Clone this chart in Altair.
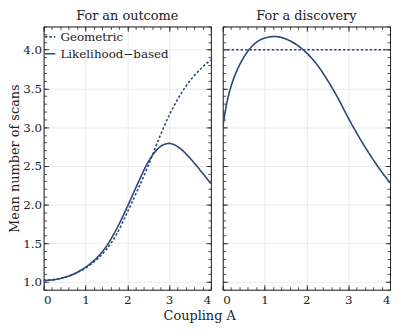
import altair as alt
import pandas as pd

# --- data ---
a_left = [0, 0.25, 0.5, 0.75, 1.0, 1.25, 1.5, 1.75, 2.0, 2.25, 2.5, 2.75, 3.0, 3.25, 3.5, 3.75, 4.0]
geometric_outcome = [1.02, 1.03, 1.06, 1.11, 1.18, 1.28, 1.42, 1.62, 1.90, 2.19, 2.50, 2.84, 3.15, 3.40, 3.60, 3.75, 3.87]
likelihood_outcome = [1.02, 1.03, 1.06, 1.11, 1.19, 1.30, 1.46, 1.69, 1.97, 2.27, 2.55, 2.73, 2.79, 2.73, 2.60, 2.44, 2.27]

a_right = [0, 0.1, 0.2, 0.3, 0.5, 0.75, 1.0, 1.25, 1.5, 1.75, 2.0, 2.25, 2.5, 2.75, 3.0, 3.25, 3.5, 3.75, 4.0]
geometric_discovery = [4.0] * len(a_right)
likelihood_discovery = [3.00, 3.32, 3.53, 3.68, 3.90, 4.07, 4.15, 4.17, 4.14, 4.07, 3.96, 3.81, 3.61, 3.38, 3.12, 2.88, 2.66, 2.46, 2.28]

series = ["Geometric", "Likelihood\u2212based"]
titles = ["For an outcome", "For a discovery"]
x_major = [0, 1, 2, 3, 4]
y_major = [1.0, 1.5, 2.0, 2.5, 3.0, 3.5, 4.0]

def frame(a, g, l):
    rows = []
    for x, y in zip(a, g):
        rows.append({"A": x, "v": y, "s": series[0]})
    for x, y in zip(a, l):
        rows.append({"A": x, "v": y, "s": series[1]})
    return pd.DataFrame(rows)

df_l = frame(a_left, geometric_outcome, likelihood_outcome)
df_r = frame(a_right, geometric_discovery, likelihood_discovery)

FONT = "DejaVu Serif"
NAVY = "#2b4679"
INK = "#222222"
W, H = 169, 266

xscale = alt.Scale(domain=[0, 4], nice=False)
yscale = alt.Scale(domain=[0.9, 4.3], nice=False, zero=False)
minor_xs = [round(i / 5, 1) for i in range(21)]
minor_ys = [round(0.9 + i / 10, 1) for i in range(35)]


def tick_axis(orient, offset, values, size, domain):
    return alt.Axis(orient=orient, offset=offset, values=values, labels=False, title=None,
                    grid=False, tickSize=size, domain=domain, domainColor=INK, tickColor=INK,
                    tickWidth=0.8, domainWidth=1)


def panel(df, title, show_y, legend):
    base = alt.Chart(df)
    leg = alt.Legend(title=None, orient="none", legendX=0, legendY=4,
                     symbolType="stroke", symbolSize=110, symbolStrokeWidth=1.6,
                     labelFont=FONT, labelFontSize=12, labelColor=INK,
                     rowPadding=4, labelOffset=4) if legend else None
    color = alt.Color("s:N", scale=alt.Scale(domain=series, range=[NAVY, NAVY]), legend=leg)
    dash = alt.StrokeDash("s:N", scale=alt.Scale(domain=series, range=[[2.5, 2], [1, 0]]), legend=leg)
    xax = alt.Axis(values=x_major, format="d", title=None, ticks=False, labelPadding=5,
                   gridColor="#ebebeb", domainColor=INK, labelFont=FONT, labelFontSize=12,
                   labelColor=INK)
    yax = alt.Axis(values=y_major, format=".1f",
                   title="Mean number of scans" if show_y else None,
                   labels=show_y, ticks=False, labelPadding=2, gridColor="#ebebeb",
                   domainColor=INK, labelFont=FONT, labelFontSize=12,
                   labelColor=INK, titleFont=FONT, titleFontSize=13, titleFontWeight="normal",
                   titleColor=INK, titlePadding=1)
    lines = base.mark_line(strokeWidth=1.6, clip=True, interpolate="monotone").encode(
        x=alt.X("A:Q", scale=xscale, axis=xax),
        y=alt.Y("v:Q", scale=yscale, axis=yax),
        color=color,
        strokeDash=dash,
    )
    layers = [lines]
    # inward ticks on all four sides (placed with negative offsets)
    specs_x = [("top", -H, minor_xs, 3, False), ("top", -H, x_major, 5, False),
               ("bottom", -H, minor_xs, 3, True), ("bottom", -H, x_major, 5, False)]
    for orient, off, vals, size, dom in specs_x:
        layers.append(base.mark_line(opacity=0).encode(
            x=alt.X("A:Q", scale=xscale, axis=tick_axis(orient, off, vals, size, dom)),
            y=alt.Y("v:Q", scale=yscale, axis=None)))
    specs_y = [("right", -W, minor_ys, 3, False), ("right", -W, y_major, 5, False),
               ("left", -W, minor_ys, 3, True), ("left", -W, y_major, 5, False)]
    for orient, off, vals, size, dom in specs_y:
        layers.append(base.mark_line(opacity=0).encode(
            x=alt.X("A:Q", scale=xscale, axis=None),
            y=alt.Y("v:Q", scale=yscale, axis=tick_axis(orient, off, vals, size, dom))))
    return alt.layer(*layers).resolve_axis(x="independent", y="independent").properties(
        width=W, height=H,
        title=alt.TitleParams(title, font=FONT, fontSize=13, fontWeight="normal", color=INK, offset=3))


left = panel(df_l, titles[0], True, True)
right = panel(df_r, titles[1], False, False)

chart = alt.hconcat(left, right, spacing=10).properties(
    title=alt.TitleParams("Coupling A", orient="bottom", anchor="middle", font=FONT, fontSize=13,
                          fontWeight="normal", color=INK, offset=4)
).configure_view(stroke=None).configure(padding=0)

chart.save("out.html", embed_options={"renderer": "svg", "actions": False})
